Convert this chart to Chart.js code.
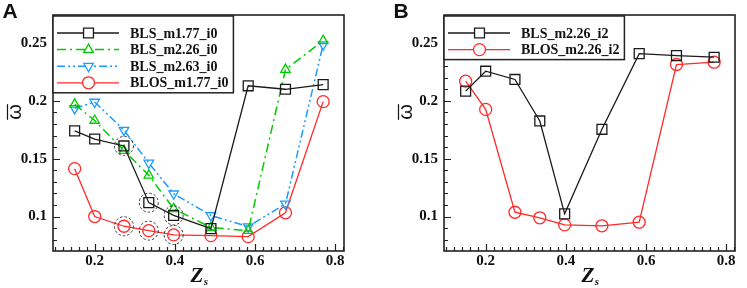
<!DOCTYPE html>
<html>
<head>
<meta charset="utf-8">
<script src="https://cdn.jsdelivr.net/npm/chart.js@4.4.0/dist/chart.umd.min.js"></script>
<style>
  body { margin: 0; width: 747px; height: 288px; overflow: hidden; background: #fff; position: relative; }
  .panel { position: absolute; top: 0; height: 288px; }
  .tag { position: absolute; top: 0; font: bold 21px/21px "Liberation Sans", Arial, sans-serif; color: #111; }
</style>
</head>
<body>
<div class="panel" style="left:0;width:373px"><canvas id="chartA" width="373" height="288"></canvas></div>
<div class="panel" style="left:391px;width:356px"><canvas id="chartB" width="356" height="288"></canvas></div>
<div class="tag" style="left:2.5px">A</div>
<div class="tag" style="left:393.5px">B</div>
<script>
// Zs positions shared by both panels
var zs = [0.15, 0.2, 0.273, 0.335, 0.397, 0.49, 0.583, 0.676, 0.77];

// panel A
var blsM177 = [0.174, 0.167, 0.161, 0.112, 0.101, 0.0895, 0.213, 0.21, 0.214];
var blsM226 = [0.197, 0.183, 0.157, 0.1356, 0.1067, 0.0905, 0.0878, 0.227, 0.252];
var blsM263 = [0.1935, 0.199, 0.1747, 0.1463, 0.1197, 0.1009, 0.0913, 0.111, 0.2486];
var blosM177 = [0.1414, 0.1, 0.0916, 0.0878, 0.0841, 0.0835, 0.0826, 0.1032, 0.1993];
// dashed rings in panel A: [dataset, point]
var circledA = [[0, 2], [0, 3], [0, 4], [3, 2], [3, 3], [3, 4]];

// panel B
var blsM226i2 = [0.2084, 0.2256, 0.2185, 0.1826, 0.1023, 0.1754, 0.2408, 0.2391, 0.2377];
var blosM226i2 = [0.217, 0.1926, 0.1037, 0.0989, 0.0928, 0.092, 0.0951, 0.2314, 0.2334];

var xTicks = [0.2, 0.4, 0.6, 0.8];
var yTicks = [0.1, 0.15, 0.2, 0.25];

var serif = '"Liberation Serif", "Times New Roman", serif';
var ink = "#111";

function points(ys) {
  return zs.map(function (z, i) { return { x: z, y: ys[i] }; });
}

function series(label, ys, color, style, extra) {
  var d = {
    label: label,
    data: points(ys),
    borderColor: color,
    borderWidth: 1.3,
    borderDash: [],
    pointStyle: style,
    pointRadius: style == "rect" ? 7 : (style == "circle" ? 6 : 5.5),
    pointRotation: 0,
    pointBorderWidth: 1.3,
    pointBorderColor: color,
    pointBackgroundColor: "rgba(0,0,0,0)",
    tension: 0
  };
  return Object.assign(d, extra || {});
}

// frame + inward ticks
var frameTicks = {
  id: "frameTicks",
  afterDraw: function (chart) {
    var ctx = chart.ctx, a = chart.chartArea, xs = chart.scales.x, ys = chart.scales.y;
    ctx.save();
    ctx.strokeStyle = "#222";
    ctx.lineWidth = 1.2;
    ctx.beginPath();
    for (var v = Math.ceil(xs.min / 0.02) * 0.02; v <= xs.max; v += 0.02) {
      var big = xTicks.some(function (t) { return Math.abs(t - v) < 1e-6; });
      var px = Math.round(xs.getPixelForValue(v)) + 0.5;
      ctx.moveTo(px, a.bottom);
      ctx.lineTo(px, a.bottom - (big ? 7 : 4));
    }
    for (var w = Math.ceil(ys.min / 0.01) * 0.01; w <= ys.max; w += 0.01) {
      var big2 = yTicks.some(function (t) { return Math.abs(t - w) < 1e-6; });
      var py = Math.round(ys.getPixelForValue(w)) + 0.5;
      ctx.moveTo(a.left, py);
      ctx.lineTo(a.left + (big2 ? 7 : 4), py);
    }
    ctx.stroke();
    ctx.lineWidth = 1.6;
    ctx.strokeRect(a.left, a.top, a.right - a.left, a.bottom - a.top);
    ctx.restore();
  }
};

// dashed rings around some points
var circleMarks = {
  id: "circleMarks",
  afterDatasetsDraw: function (chart, args, opts) {
    var ctx = chart.ctx;
    ctx.save();
    ctx.setLineDash([2.5, 2]);
    ctx.strokeStyle = "#333";
    ctx.lineWidth = 1;
    (opts.marks || []).forEach(function (m) {
      var p = chart.getDatasetMeta(m[0]).data[m[1]];
      ctx.beginPath();
      ctx.arc(p.x, p.y, 9.5, 0, Math.PI * 2);
      ctx.stroke();
    });
    ctx.restore();
  }
};

// boxed legend in the top left corner
var boxLegend = {
  id: "boxLegend",
  afterDraw: function (chart) {
    var ctx = chart.ctx, a = chart.chartArea, sets = chart.data.datasets;
    var left = a.left, top = a.top + 1;
    ctx.save();
    ctx.font = "bold 14px " + serif;
    var wMax = Math.max.apply(null, sets.map(function (d) { return ctx.measureText(d.label).width; }));
    var w = 77 + wMax + 5, h = 17 + (sets.length - 1) * 16.6 + 10;
    ctx.fillStyle = "#fff";
    ctx.fillRect(left, top, w, h);
    ctx.lineWidth = 1.5;
    ctx.strokeStyle = "#222";
    ctx.strokeRect(left, top, w, h);
    sets.forEach(function (d, i) {
      var y = top + 17 + i * 16.6;
      ctx.setLineDash(d.borderDash || []);
      ctx.strokeStyle = d.borderColor;
      ctx.lineWidth = d.borderWidth;
      ctx.beginPath();
      ctx.moveTo(left + 4, y);
      ctx.lineTo(left + 66, y);
      ctx.stroke();
      ctx.setLineDash([]);
      ctx.fillStyle = "#fff";
      ctx.lineWidth = d.pointBorderWidth;
      Chart.helpers.drawPoint(ctx, {
        pointStyle: d.pointStyle, rotation: d.pointRotation, radius: d.pointRadius, borderWidth: d.pointBorderWidth
      }, left + 35.5, y);
      ctx.fillStyle = ink;
      ctx.textBaseline = "middle";
      ctx.textAlign = "left";
      ctx.fillText(d.label, left + 77, y + 1);
    });
    ctx.restore();
  }
};

// Zs and omega-bar titles
var axisTitles = {
  id: "axisTitles",
  afterDraw: function (chart) {
    var ctx = chart.ctx, a = chart.chartArea;
    ctx.save();
    ctx.fillStyle = ink;
    ctx.textBaseline = "alphabetic";
    ctx.textAlign = "left";
    var cx = (a.left + a.right) / 2 - 8;
    ctx.font = "italic bold 21px " + serif;
    ctx.fillText("Z", cx, 281.5);
    var zw = ctx.measureText("Z").width;
    ctx.font = "italic bold 11px " + serif;
    ctx.fillText("s", cx + zw + 0.5, 284.5);

    ctx.translate(a.left - 32, a.top + 97);
    ctx.rotate(-Math.PI / 2);
    ctx.font = "20px \"Liberation Sans\", Arial, sans-serif";
    ctx.textAlign = "center";
    ctx.fillText("\u03c9", 0, 0);
    var ow = ctx.measureText("\u03c9").width;
    ctx.strokeStyle = ink;
    ctx.lineWidth = 1.2;
    ctx.beginPath();
    ctx.moveTo(-ow / 2, -13.5);
    ctx.lineTo(ow / 2, -13.5);
    ctx.stroke();
    ctx.restore();
  }
};

function makeChart(id, sets, circled, padRight) {
  var tickFont = { family: serif, size: 15, weight: "bold" };
  return new Chart(document.getElementById(id), {
    type: "line",
    data: { datasets: sets },
    options: {
      responsive: false,
      animation: false,
      layout: { padding: { top: 15, right: padRight, left: 0, bottom: 0 } },
      plugins: {
        legend: { display: false },
        tooltip: { enabled: false },
        circleMarks: { marks: circled }
      },
      scales: {
        x: {
          type: "linear",
          min: 0.096,
          max: 0.822,
          afterBuildTicks: function (s) { s.ticks = xTicks.map(function (v) { return { value: v }; }); },
          afterFit: function (s) { s.height = 37; },
          grid: { display: false, drawTicks: false },
          border: { display: false },
          ticks: { padding: 1, font: tickFont, color: ink, maxRotation: 0, callback: function (v) { return String(v); } }
        },
        y: {
          type: "linear",
          min: 0.0702,
          max: 0.2742,
          afterBuildTicks: function (s) { s.ticks = yTicks.map(function (v) { return { value: v }; }); },
          afterFit: function (s) { s.width = 53; },
          grid: { display: false, drawTicks: false },
          border: { display: false },
          ticks: { padding: 6, font: tickFont, color: ink, callback: function (v) { return String(v); } }
        }
      }
    },
    plugins: [circleMarks, frameTicks, boxLegend, axisTitles]
  });
}

makeChart("chartA", [
  series("BLS_m1.77_i0", blsM177, "#1a1a1a", "rect"),
  series("BLS_m2.26_i0", blsM226, "#00cc00", "triangle", { borderWidth: 1.5, borderDash: [9, 4, 2, 4] }),
  series("BLS_m2.63_i0", blsM263, "#1a9bff", "triangle", { borderWidth: 1.5, borderDash: [8, 3, 2, 3, 2, 3], pointRotation: 180 }),
  series("BLOS_m1.77_i0", blosM177, "#ff2a2a", "circle")
], circledA, 29);

makeChart("chartB", [
  series("BLS_m2.26_i2", blsM226i2, "#1a1a1a", "rect"),
  series("BLOS_m2.26_i2", blosM226i2, "#ff2a2a", "circle")
], [], 12);
</script>
</body>
</html>
